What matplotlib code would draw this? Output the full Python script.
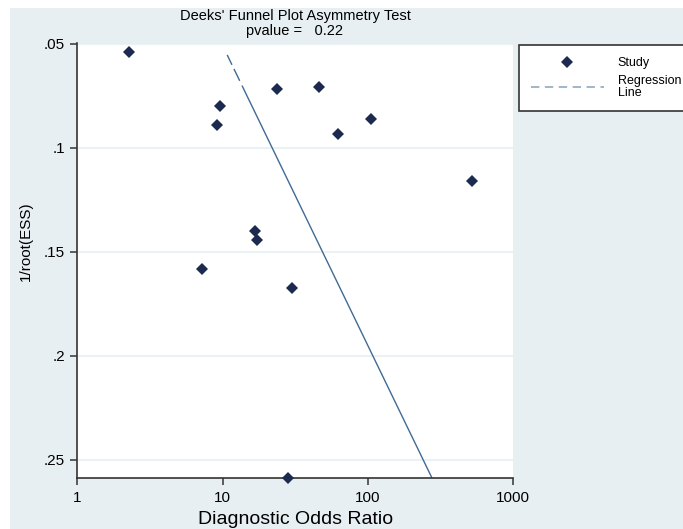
import matplotlib
matplotlib.use('Agg')
import matplotlib.pyplot as plt
from matplotlib.lines import Line2D
from matplotlib.patches import Rectangle
import numpy as np

# Stata-like look
plt.rcParams['font.family'] = ['Liberation Sans', 'DejaVu Sans']
plt.rcParams['lines.scale_dashes'] = False

######## DATA #########
# Diagnostic odds ratio and 1/sqrt(ESS) for each study
dor      = [2.27, 9.58, 9.09, 23.7, 46.5, 62.4, 105.2, 523.0, 16.6, 17.4, 7.24, 30.0, 28.3]
inv_ess  = [0.0540, 0.0801, 0.0889, 0.0718, 0.0707, 0.0933, 0.0859, 0.1159,
            0.1402, 0.1442, 0.1582, 0.1674, 0.2588]

# regression line: log10(DOR) = reg_a + reg_b * (1/root(ESS))
reg_a = 0.6489
reg_b = 6.929
reg_y = [0.0553, 0.2588]

xticks      = [1, 10, 100, 1000]
xticklabels = ['1', '10', '100', '1000']
yticks      = [0.05, 0.10, 0.15, 0.20, 0.25]
yticklabels = ['.05', '.1', '.15', '.2', '.25']

title1 = "Deeks' Funnel Plot Asymmetry Test"
title2 = "pvalue =   0.22"
######################

bg     = '#e8eff2'
navy   = '#1b2a4e'
lcol   = '#3f6a95'
spine  = '#333333'

W, H = 683, 529
fig = plt.figure(figsize=(W/100, H/100), dpi=100)
fig.patch.set_facecolor('white')
fig.patches.append(Rectangle((10/W, 0), 1, 1 - 8/H, transform=fig.transFigure,
                             facecolor=bg, edgecolor='none', zorder=-10))

ax = fig.add_axes([77.3/W, 1 - 478/H, (513 - 77.3)/W, (478 - 43.5)/H])
ax.set_facecolor('white')

# horizontal grid
for yt in yticks:
    ax.axhline(yt, color='#eaf2f5', lw=1.5, zorder=0)

# regression line (dashed at the top, then solid)
reg_x = [10**(reg_a + reg_b*v) for v in reg_y]
ax.plot(reg_x, reg_y, color=lcol, lw=1.0,
        linestyle=(0, (7.9, 3.3, 9.5, 3.8, 1000, 0)), zorder=2)

ax.plot(dor, inv_ess, ls='none', marker='D', ms=6.5, color=navy,
        markeredgewidth=0, clip_on=False, zorder=3)

ax.set_xscale('log')
ax.set_xlim(1, 1000)
ax.set_ylim(0.2588, 0.0498)
ax.set_xticks(xticks)
ax.set_xticklabels(xticklabels)
ax.xaxis.set_minor_locator(matplotlib.ticker.NullLocator())
ax.set_yticks(yticks)
ax.set_yticklabels(yticklabels)

for s in ['top', 'right']:
    ax.spines[s].set_visible(False)
for s in ['left', 'bottom']:
    ax.spines[s].set_color(spine)
    ax.spines[s].set_linewidth(1.2)
ax.tick_params(axis='both', direction='out', length=5, width=1.1, color=spine,
               labelsize=11, labelcolor='black', pad=4)

ax.set_xlabel('Diagnostic Odds Ratio', fontsize=14, va='center')
ax.xaxis.set_label_coords(0.5, -(519 - 478)/434.5)
ax.set_ylabel('1/root(ESS)', fontsize=11, va='center', ha='center')
ax.yaxis.set_label_coords((26 - 77.3)/435.7, 1 - (241 - 43.5)/434.5)

fig.text(295/W, 1 - 16/H, title1, ha='center', va='center', fontsize=10.5)
fig.text(295/W, 1 - 31/H, title2, ha='center', va='center', fontsize=10.5)

# legend
handles = [Line2D([], [], ls='none', marker='D', ms=6, color=navy, markeredgewidth=0),
           Line2D([], [], color='#9ab0c6', lw=1.3, linestyle=(0, (6, 4)))]
leg = fig.legend(handles, ['Study', 'Regression\nLine'], loc='upper left',
                 bbox_to_anchor=(519/W, 1 - 45/H), borderaxespad=0, fontsize=9,
                 handlelength=5.85, handletextpad=1.1, borderpad=0.95,
                 labelspacing=0.5, fancybox=False, framealpha=1)
leg.get_frame().set_edgecolor(spine)
leg.get_frame().set_linewidth(1.2)
for t in leg.get_texts():
    t.set_linespacing(1.0)

fig.savefig('out.png', dpi=100, facecolor=fig.get_facecolor())
